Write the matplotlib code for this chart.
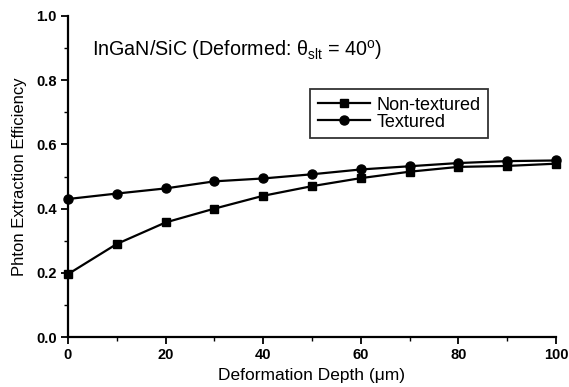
import matplotlib
matplotlib.use("Agg")
import matplotlib.pyplot as plt
from matplotlib.ticker import MultipleLocator

plt.rcParams['font.family'] = ['Liberation Sans', 'DejaVu Sans']
plt.rcParams['mathtext.fontset'] = 'custom'
plt.rcParams['mathtext.rm'] = 'Liberation Sans'
plt.rcParams['mathtext.it'] = 'Liberation Sans:italic'

depth = [0, 10, 20, 30, 40, 50, 60, 70, 80, 90, 100]
non_textured = [0.196, 0.29, 0.357, 0.40, 0.44, 0.47, 0.495, 0.515, 0.53, 0.533, 0.54]
textured = [0.43, 0.447, 0.463, 0.485, 0.494, 0.507, 0.522, 0.532, 0.542, 0.548, 0.55]
xticks = [0, 20, 40, 60, 80, 100]
yticks = [0.0, 0.2, 0.4, 0.6, 0.8, 1.0]

fig = plt.figure(figsize=(5.69, 3.87), dpi=100)
ax = fig.add_axes([0.1195, 0.129, 0.8575, 0.8297])

ax.plot(depth, non_textured, color='black', lw=1.6, marker='s', ms=6, label='Non-textured', clip_on=False)
ax.plot(depth, textured, color='black', lw=1.6, marker='o', ms=6.5, label='Textured', clip_on=False)

ax.set_xlim(0, 100)
ax.set_ylim(0, 1.0)
ax.set_xticks(xticks)
ax.set_yticks(yticks)
ax.set_xticklabels([str(v) for v in xticks])
ax.set_yticklabels([f"{v:.1f}" for v in yticks])
ax.xaxis.set_minor_locator(MultipleLocator(10))
ax.yaxis.set_minor_locator(MultipleLocator(0.1))
for s in ['top', 'right']:
    ax.spines[s].set_visible(False)
for s in ['left', 'bottom']:
    ax.spines[s].set_linewidth(1.6)
ax.tick_params(which='major', direction='out', length=5, width=1.3, labelsize=10.5, pad=3)
ax.tick_params(which='minor', direction='out', length=3, width=1.0)
for lbl in ax.get_xticklabels() + ax.get_yticklabels():
    lbl.set_fontweight('bold')

ax.set_xlabel('Deformation Depth (μm)', fontsize=12.5, labelpad=4)
ax.set_ylabel('Phton Extraction Efficiency', fontsize=12, labelpad=7)

ax.text(4.9, 0.895, r'InGaN/SiC (Deformed: θ$_{\rm slt}$ = 40$^{\rm o}$)', fontsize=14.2, va='center', ha='left')

leg = ax.legend(loc='upper left', bbox_to_anchor=(0.497, 0.772), frameon=True, fancybox=False,
                edgecolor='black', fontsize=13, handlelength=2.9, borderpad=0.42,
                labelspacing=0.0, handletextpad=0.35, borderaxespad=0)
leg.get_frame().set_linewidth(1.3)

fig.savefig('out.png', dpi=100)
